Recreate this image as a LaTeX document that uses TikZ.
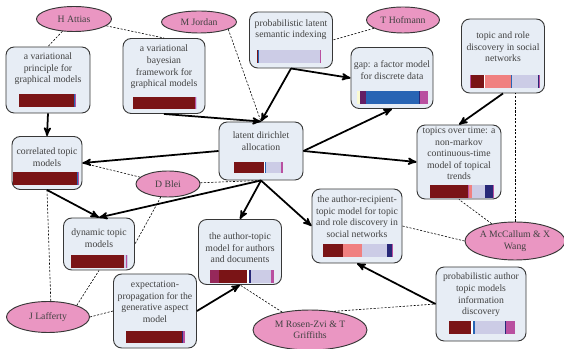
\documentclass[tikz,border=0pt]{standalone}
\usepackage{fontspec}
\setmainfont{Liberation Serif}
\usetikzlibrary{arrows,shapes}
\definecolor{node_pink}{RGB}{234,150,194}
\definecolor{node_blue}{RGB}{231,237,245}
\definecolor{edge_gray}{RGB}{55,55,55}
\definecolor{text_gray}{RGB}{65,65,65}
\definecolor{bar_red}{RGB}{122,20,22}
\definecolor{bar_salmon}{RGB}{240,128,128}
\definecolor{bar_lav}{RGB}{204,204,230}
\definecolor{bar_navy}{RGB}{40,40,120}
\definecolor{bar_mag}{RGB}{185,80,160}
\definecolor{bar_blue}{RGB}{40,100,180}
\definecolor{bar_purp}{RGB}{100,30,100}
\definecolor{bar_yell}{RGB}{250,250,210}
\definecolor{bar_rose}{RGB}{150,40,90}

\begin{document}
\begin{tikzpicture}[x=0.03cm,y=-0.03cm,>={stealth'[scale=1.3]},semithick]
    \tikzstyle{title}=[align=center,text=text_gray,inner sep=0pt,font=\fontsize{8.3}{9.9}\selectfont]
    \tikzstyle{paper}=[draw=edge_gray,fill=node_blue,rounded corners=7pt,line width=0.8pt,inner sep=0pt]
    \tikzstyle{author}=[style=title,ellipse,draw=edge_gray,fill=node_pink,line width=0.8pt]
    \tikzstyle{cites}=[->,line width=1.5pt]
    \tikzstyle{wrote}=[line width=0.5pt,dash pattern=on 1.8pt off 1.3pt]

    \useasboundingbox (0,0) rectangle (564,349);

    % papers
    \node[paper,minimum width=2.52cm,minimum height=1.98cm] (vpgm) at (48,80)  {};
    \node[paper,minimum width=2.46cm,minimum height=2.25cm] (vbf)  at (164,76) {};
    \node[paper,minimum width=2.49cm,minimum height=1.68cm] (plsi) at (291,40) {};
    \node[paper,minimum width=2.46cm,minimum height=1.83cm] (gap)  at (392,78) {};
    \node[paper,minimum width=2.49cm,minimum height=2.22cm] (trd)  at (503,56) {};
    \node[paper,minimum width=2.10cm,minimum height=1.59cm] (ctm)  at (47,163) {};
    \node[paper,minimum width=2.52cm,minimum height=1.74cm] (lda)  at (261,151) {};
    \node[paper,minimum width=2.52cm,minimum height=2.22cm] (tot)  at (459,162) {};
    \node[paper,minimum width=2.13cm,minimum height=1.56cm] (dtm)  at (99,244) {};
    \node[paper,minimum width=2.49cm,minimum height=1.95cm] (atm)  at (240,252) {};
    \node[paper,minimum width=2.70cm,minimum height=2.22cm] (art)  at (357,226) {};
    \node[paper,minimum width=2.49cm,minimum height=2.22cm] (ep)   at (155,311) {};
    \node[paper,minimum width=2.70cm,minimum height=2.22cm] (pat)  at (481,304) {};

    \node[title] (vpgm_t) at (48,69)    {a variational\\principle for\\graphical models};
    \node[title] (vbf_t)  at (164,67)   {a variational\\bayesian\\framework for\\graphical models};
    \node[title] (plsi_t) at (291,29.5) {probabilistic latent\\semantic indexing};
    \node[title] (gap_t)  at (392,70)   {gap: a factor model\\for discrete data};
    \node[title] (trd_t)  at (503,47)   {topic and role\\discovery in social\\networks};
    \node[title] (ctm_t)  at (47,157)   {correlated topic\\models};
    \node[title] (lda_t)  at (261,141)  {latent dirichlet\\allocation};
    \node[title] (tot_t)  at (459,153.5){topics over time: a\\non-markov\\continuous-time\\model of topical\\trends};
    \node[title] (dtm_t)  at (99,238)   {dynamic topic\\models};
    \node[title] (atm_t)  at (240,248)  {the author-topic\\model for authors\\and documents};
    \node[title] (art_t)  at (357,216.5){the author-recipient-\\topic model for topic\\and role discovery in\\social networks};
    \node[title] (ep_t)   at (155,302)  {expectation-\\propagation for the\\generative aspect\\model};
    \node[title] (pat_t)  at (481,295)  {probabilistic author\\topic models\\information\\discovery};

    % topic bars
    \foreach \a/\b/\c in {19/73.5/bar_red,73.5/74.5/bar_blue,74.5/76/bar_mag}
      \fill[\c] (\a,94) rectangle (\b,107);
    \foreach \a/\b/\c in {133/194.5/bar_red,194.5/195.5/bar_mag,195.5/197/bar_lav}
      \fill[\c] (\a,97) rectangle (\b,109);
    \foreach \a/\b/\c in {257/257.7/bar_red,257.7/258.7/bar_blue,258.7/319.5/bar_lav,319.5/320.7/bar_mag}
      \fill[\c] (\a,50) rectangle (\b,63);
    \foreach \a/\b/\c in {357/360/bar_yell,360/366/bar_purp,366/419/bar_blue,419/420/bar_navy,420/428/bar_mag}
      \fill[\c] (\a,91) rectangle (\b,104);
    \foreach \a/\b/\c in {470/471/bar_mag,471/484/bar_red,484/485/white,485/511/bar_salmon,511/512/bar_blue,512/538/bar_lav,538/539/bar_navy,539/540/bar_mag}
      \fill[\c] (\a,75) rectangle (\b,88);
    \foreach \a/\b/\c in {13/76.5/bar_red,76.5/77.5/bar_blue,77.5/78.5/bar_mag}
      \fill[\c] (\a,172) rectangle (\b,185);
    \foreach \a/\b/\c in {234/264/bar_red,264/265/white,265/266/bar_blue,266/281/bar_lav,281/283/bar_mag}
      \fill[\c] (\a,162) rectangle (\b,173);
    \foreach \a/\b/\c in {430/468/bar_red,468/469/bar_mag,469/472/bar_salmon,472/485/bar_lav,485/493/bar_navy,493/494/bar_mag}
      \fill[\c] (\a,185) rectangle (\b,198);
    \foreach \a/\b/\c in {71/124/bar_red,124/125.5/bar_lav,125.5/126.7/bar_mag,126.7/128/bar_lav}
      \fill[\c] (\a,255) rectangle (\b,268);
    \foreach \a/\b/\c in {210/219/bar_rose,219/247/bar_red,247/249/white,249/251/bar_navy,251/271/bar_lav,271/274/bar_mag}
      \fill[\c] (\a,270) rectangle (\b,283);
    \foreach \a/\b/\c in {323/343/bar_red,343/362/bar_salmon,362/387/bar_lav,387/392/bar_navy,392/393/bar_mag}
      \fill[\c] (\a,244) rectangle (\b,257);
    \foreach \a/\b/\c in {126/182/bar_red,182/183/bar_navy,183/184.5/bar_mag}
      \fill[\c] (\a,331) rectangle (\b,343);
    \foreach \a/\b/\c in {449/471/bar_red,471/473/white,473/475/bar_blue,475/505/bar_lav,505/506/bar_navy,506/515/bar_mag}
      \fill[\c] (\a,321) rectangle (\b,334);

    % authors
    \node[author,minimum width=2.25cm,minimum height=0.75cm] (attias)   at (74,19)   {H Attias};
    \node[author,minimum width=2.25cm,minimum height=0.66cm] (jordan)   at (199,22)  {M Jordan};
    \node[author,minimum width=2.19cm,minimum height=0.78cm] (hofmann)  at (403,20)  {T Hofmann};
    \node[author,minimum width=1.92cm,minimum height=0.78cm] (blei)     at (168,184) {D Blei};
    \node[author,minimum width=2.49cm,minimum height=0.93cm] (lafferty) at (48,317)  {J Lafferty};
    \node[author,minimum width=3.42cm,minimum height=1.20cm] (rosenzvi) at (310,330) {M Rosen-Zvi \& T\\Griffiths};
    \node[author,minimum width=3.00cm,minimum height=1.14cm] (mccallum) at (515,241) {A McCallum \& X\\Wang};

    % citations
    \path[cites]
     (vpgm.south) edge (ctm.north)
     (vbf.south)  edge (lda.north)
     (plsi.south) edge (lda.north)
     (plsi.south) edge (gap.west)
     (lda.west)   edge (ctm.east)
     (lda.east)   edge (gap.south)
     (lda.east)   edge (tot.west)
     (trd.south)  edge (tot.north)
     (lda.south)  edge (dtm.north)
     (ctm.south)  edge (dtm.north)
     (lda.south)  edge (atm.north)
     (lda.south)  edge (art.west)
     (ep.east)    edge (atm.south)
     (pat.west)   edge (art.south);

    % authorship
    \path[wrote]
     (attias)       edge (vpgm.north)
     (attias)       edge (vbf.north)
     (jordan.-14)   edge (lda.north)
     (hofmann)      edge (plsi.east)
     (blei)         edge (ctm.east)
     (blei)         edge (lda.south)
     (blei)         edge (dtm.east)
     (lafferty.80)  edge (ctm.south)
     (lafferty.22)  edge (dtm.south)
     (lafferty.east) edge (ep.west)
     (rosenzvi)     edge (atm.south)
     (rosenzvi.38)  edge (pat.west)
     (mccallum.west) edge (art.east)
     (mccallum)     edge (tot.south)
     (mccallum.north) edge (mccallum.north |- trd.south);
\end{tikzpicture}
\end{document}
